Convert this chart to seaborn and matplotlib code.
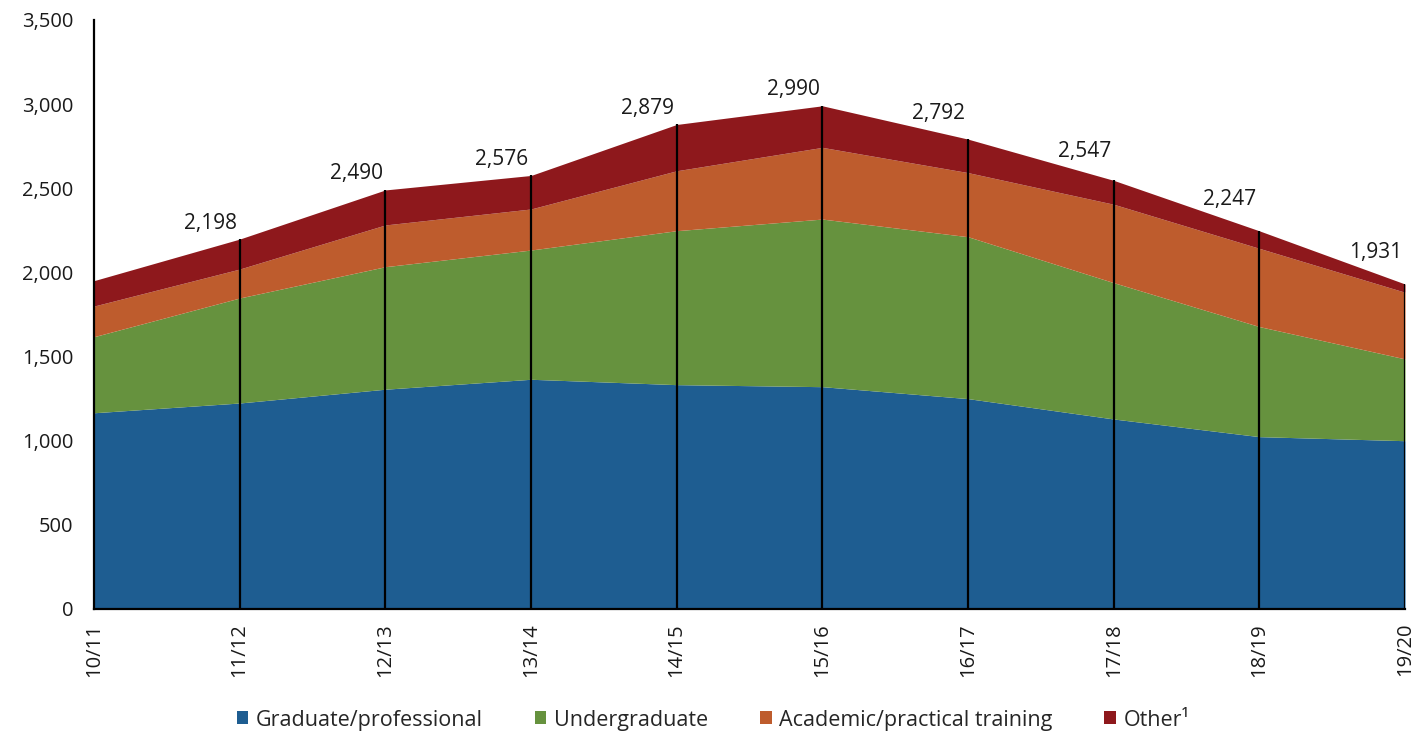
import matplotlib
matplotlib.use("Agg")
import matplotlib.pyplot as plt
import seaborn as sns
import pandas as pd
from matplotlib.patches import Patch

# Data (thousands)
years = ["10/11", "11/12", "12/13", "13/14", "14/15", "15/16", "16/17", "17/18", "18/19", "19/20"]
graduate = [1166, 1224, 1306, 1365, 1333, 1321, 1250, 1129, 1024, 1000]
undergraduate = [452, 624, 728, 768, 915, 996, 962, 810, 654, 486]
academic = [182, 172, 248, 244, 356, 426, 381, 466, 465, 396]
other = [151, 178, 208, 199, 275, 247, 199, 142, 104, 49]
series_names = ["Graduate/professional", "Undergraduate", "Academic/practical training", "Other\u00b9"]
colors = ["#1E5D91", "#66923E", "#BE5C2D", "#8E181C"]

df = pd.DataFrame({
    "year": years,
    series_names[0]: graduate,
    series_names[1]: undergraduate,
    series_names[2]: academic,
    series_names[3]: other,
})
df["total"] = df[series_names].sum(axis=1)

sns.set_theme(style="white")
plt.rcParams["font.family"] = ["Open Sans", "DejaVu Sans"]

fig = plt.figure(figsize=(14.26, 7.34), dpi=100)
ax = fig.add_axes([0.0659, 0.1703, 0.9194, 0.8025])

x = list(range(len(years)))
ax.stackplot(x, *[df[c] for c in series_names], colors=colors, linewidth=0)

# vertical drop lines from 0 to the total
ax.vlines(x[1:], 0, df["total"][1:], color="black", linewidth=1.6, zorder=3)

# totals (the first year is not labelled); keep labels clear of a falling edge
tot = df["total"].tolist()
for i in x[1:]:
    y_left = tot[i] + 0.3 * (tot[i - 1] - tot[i])
    y_anchor = max(tot[i], y_left)
    ax.annotate(f"{tot[i]:,}", (i, y_anchor), xytext=(-2, 4),
                textcoords="offset points", ha="right", va="bottom",
                fontsize=15, color="#1a1a1a")

ax.set_xlim(0, len(years) - 1)
ax.set_ylim(0, 3500)
ax.set_yticks(range(0, 3501, 500))
ax.set_yticklabels([f"{v:,}" for v in range(0, 3501, 500)], fontsize=14.5, color="#1a1a1a")
ax.set_xticks(x)
ax.set_xticklabels(years, rotation=90, fontsize=14.5, color="#1a1a1a")
ax.tick_params(axis="y", length=0, pad=15)
ax.tick_params(axis="x", length=0, pad=10)

for side in ["top", "right"]:
    ax.spines[side].set_visible(False)
for side in ["left", "bottom"]:
    ax.spines[side].set_color("black")
    ax.spines[side].set_linewidth(1.6)
ax.grid(False)

handles = [Patch(facecolor=c, edgecolor="none") for c in colors]
fig.legend(handles, series_names, loc="center", bbox_to_anchor=(0.5, 0.019),
           ncol=4, frameon=False, fontsize=15.5, handlelength=0.55, handleheight=0.55,
           handletextpad=0.35, columnspacing=2.4, borderaxespad=0)

fig.savefig("out.png", dpi=100)
